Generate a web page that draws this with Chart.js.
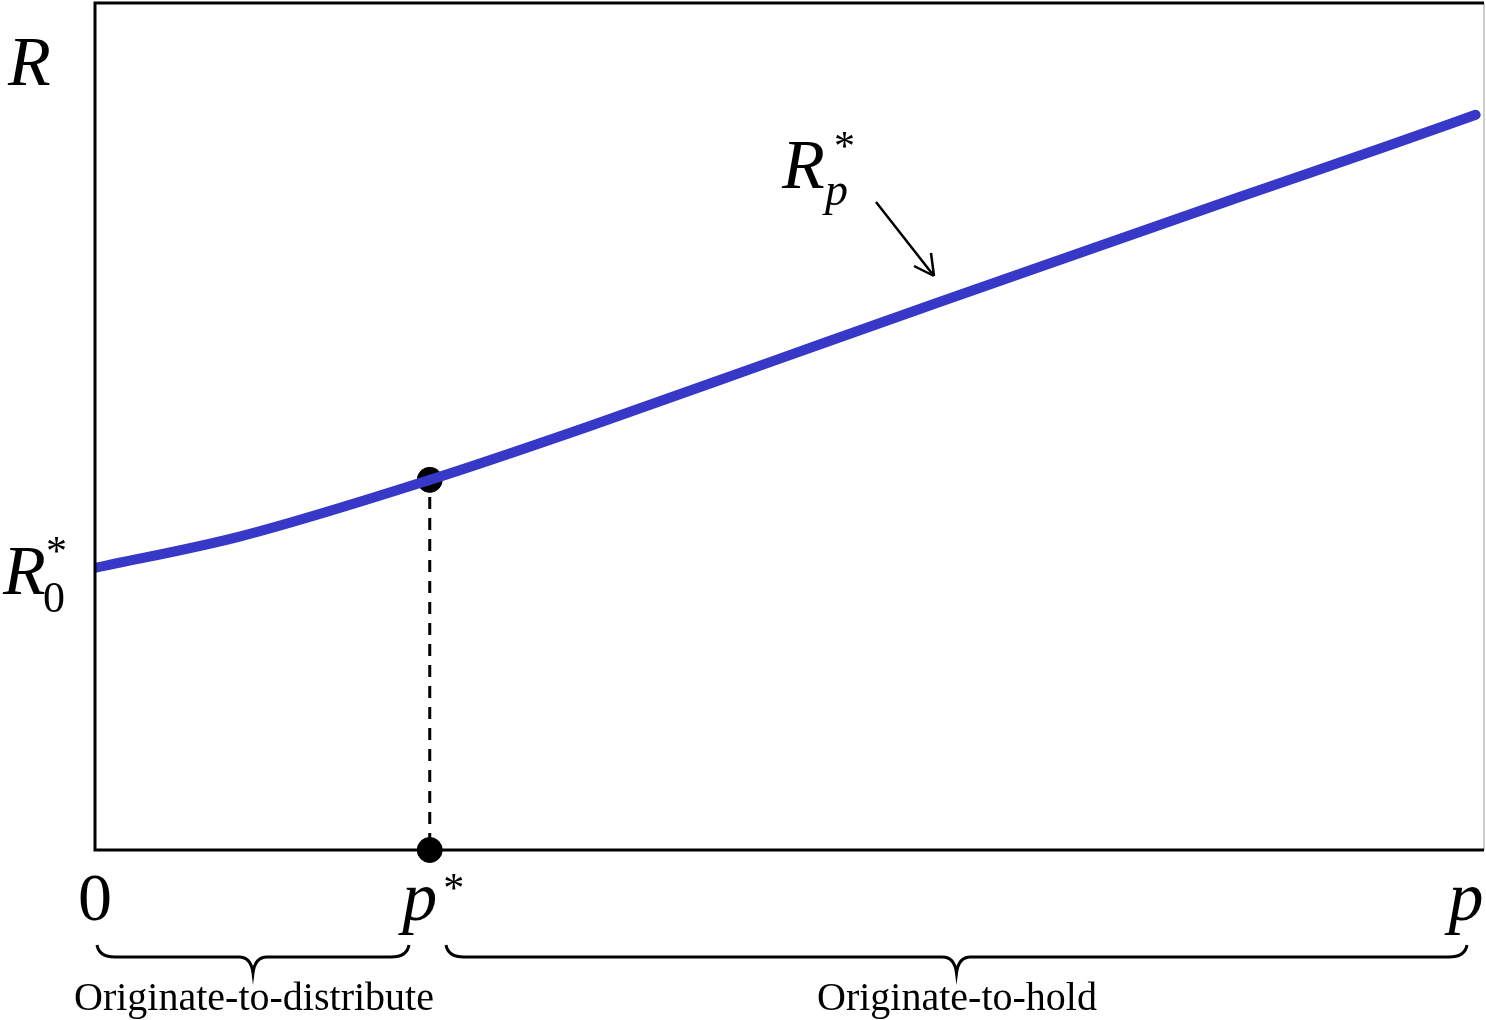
<!DOCTYPE html>
<html>
<head>
<meta charset="utf-8">
<script src="https://cdn.jsdelivr.net/npm/chart.js@4"></script>
<style>
  html, body { margin: 0; padding: 0; background: #fff; }
  #wrap { width: 1486px; height: 1020px; }
</style>
</head>
<body>
<div id="wrap"><canvas id="myChart" width="1486" height="1020"></canvas></div>
<script>
// curve R*(p)
const pValues = [0, 0.104, 0.241, 0.364, 0.486, 0.608, 0.716, 0.824, 0.932, 0.994];
const rValues = [0.333, 0.370, 0.437, 0.505, 0.576, 0.647, 0.709, 0.771, 0.832, 0.868];
// threshold p*
const pStar = 0.241;
const rAtPStar = 0.437;
const r0 = 0.333;

const serif = '"Liberation Serif", "Times New Roman", serif';

function drawBrace(ctx, x1, x2, y, depth) {
    const mid = (x1 + x2) / 2;
    const r = 14;
    ctx.beginPath();
    ctx.moveTo(x1, y - 12);
    ctx.quadraticCurveTo(x1 + 2, y, x1 + r + 4, y);
    ctx.lineTo(mid - r, y);
    ctx.quadraticCurveTo(mid - 2, y, mid, y + depth);
    ctx.quadraticCurveTo(mid + 2, y, mid + r, y);
    ctx.lineTo(x2 - r - 4, y);
    ctx.quadraticCurveTo(x2 - 2, y, x2, y - 12);
    ctx.stroke();
}

const annotations = {
    id: 'annotations',
    afterDatasetsDraw(chart) {
        const { ctx, chartArea: a, scales } = chart;
        const xs = scales.x, ys = scales.y;
        ctx.save();
        // frame
        ctx.strokeStyle = '#bbb';
        ctx.lineWidth = 1.5;
        ctx.beginPath();
        ctx.moveTo(a.right, a.top);
        ctx.lineTo(a.right, a.bottom);
        ctx.stroke();
        ctx.strokeStyle = '#000';
        ctx.lineWidth = 3;
        ctx.beginPath();
        ctx.moveTo(a.right, a.top);
        ctx.lineTo(a.left, a.top);
        ctx.lineTo(a.left, a.bottom);
        ctx.lineTo(a.right, a.bottom);
        ctx.stroke();

        ctx.fillStyle = '#000';
        ctx.strokeStyle = '#000';
        ctx.textBaseline = 'alphabetic';
        ctx.textAlign = 'left';

        // y labels
        ctx.font = 'italic 70px ' + serif;
        ctx.fillText('R', 8, 85);
        const y0 = ys.getPixelForValue(r0);
        ctx.fillText('R', 3, y0 + 26);
        ctx.font = '44px ' + serif;
        ctx.fillText('0', 43, y0 + 44);
        ctx.font = '42px ' + serif;
        ctx.fillText('*', 46, y0 - 3);

        // curve label
        ctx.font = 'italic 70px ' + serif;
        ctx.fillText('R', 782, 188);
        ctx.font = 'italic 46px ' + serif;
        ctx.fillText('p', 825, 205);
        ctx.font = '42px ' + serif;
        ctx.fillText('*', 834, 160);

        // arrow
        ctx.lineWidth = 2.5;
        ctx.beginPath();
        ctx.moveTo(876, 202);
        ctx.lineTo(934, 276);
        ctx.moveTo(934, 276);
        ctx.lineTo(914, 266);
        ctx.moveTo(934, 276);
        ctx.lineTo(931, 253);
        ctx.stroke();

        // x labels
        const xp = xs.getPixelForValue(pStar);
        ctx.font = '68px ' + serif;
        ctx.textAlign = 'center';
        ctx.fillText('0', xs.getPixelForValue(0), 920);
        ctx.font = 'italic 70px ' + serif;
        ctx.fillText('p', xp - 10, 920);
        ctx.fillText('p', 1466, 920);
        ctx.font = '42px ' + serif;
        ctx.fillText('*', xp + 24, 902);

        // braces
        ctx.lineWidth = 3;
        drawBrace(ctx, 97, 409, 957, 16);
        drawBrace(ctx, 446, 1467, 957, 16);

        ctx.font = '40px ' + serif;
        ctx.fillText('Originate-to-distribute', 254, 1010);
        ctx.fillText('Originate-to-hold', 957, 1010);
        ctx.restore();
    }
};

const ctx = document.getElementById('myChart').getContext('2d');
const myChart = new Chart(ctx, {
    type: 'scatter',
    data: {
        datasets: [
            {
                label: 'R*',
                data: pValues.map((p, i) => ({ x: p, y: rValues[i] })),
                showLine: true,
                fill: false,
                borderColor: 'rgb(55, 55, 200)',
                borderWidth: 10,
                borderCapStyle: 'round',
                cubicInterpolationMode: 'monotone',
                pointRadius: 0
            },
            {
                label: 'dashed',
                data: [{ x: pStar, y: 0.006 }, { x: pStar, y: rAtPStar - 0.014 }],
                showLine: true,
                borderColor: '#000',
                borderWidth: 3,
                borderDash: [12, 9],
                pointRadius: 0
            },
            {
                label: 'points',
                data: [{ x: pStar, y: rAtPStar }, { x: pStar, y: 0 }],
                showLine: false,
                backgroundColor: '#000',
                borderColor: '#000',
                pointRadius: 12.5,
                clip: false
            }
        ]
    },
    options: {
        responsive: false,
        animation: false,
        layout: { autoPadding: false, padding: { left: 95, right: 2, top: 3, bottom: 170 } },
        plugins: {
            legend: { display: false },
            tooltip: { enabled: false }
        },
        scales: {
            x: { type: 'linear', min: 0, max: 1, display: false },
            y: { type: 'linear', min: 0, max: 1, display: false }
        }
    },
    plugins: [annotations]
});
</script>
</body>
</html>
